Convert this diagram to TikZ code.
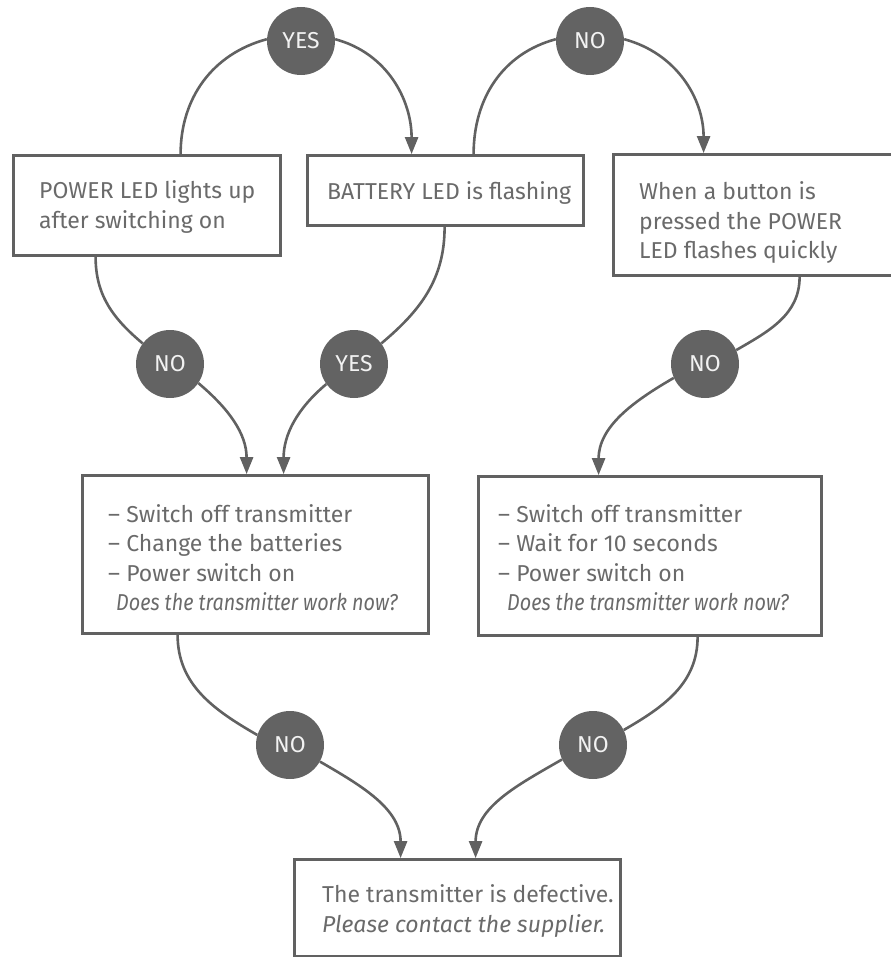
\documentclass[tikz,border=0pt]{standalone}
\usepackage{fontspec}
\usepackage{graphicx}
\setmainfont{Fira Sans}
\usetikzlibrary{arrows.meta}
\definecolor{linegray}{HTML}{616161}
\definecolor{circgray}{HTML}{636363}
\definecolor{textgray}{HTML}{6A6A6A}
\definecolor{circtext}{HTML}{F2F2F2}
\newcommand{\qline}[1]{\scalebox{0.86}[1]{\textit{#1}}}
\begin{document}
\begin{tikzpicture}[x=1pt,y=1pt,
  boxnode/.style={draw=linegray, line width=2.8pt, rectangle, inner sep=0pt},
  txt/.style={text=textgray, inner sep=0pt, align=left, anchor=west, font=\fontsize{23}{29.5}\selectfont},
  answer/.style={circle, fill=circgray, minimum size=68pt, inner sep=0pt, text=circtext, font=\fontsize{23}{26}\selectfont},
  conn/.style={draw=linegray, line width=2.6pt},
  arr/.style={conn, -{Triangle[width=13pt,length=17pt]}}
]
\useasboundingbox (0,0) rectangle (891,-958);

% boxes
\node[boxnode, minimum width=267pt, minimum height=100pt] (b1) at (147,-205.5) {};
\node[boxnode, minimum width=276pt, minimum height=70pt] (b2) at (445.5,-190.5) {};
\node[boxnode, minimum width=286.5pt, minimum height=121pt] (b3) at (756.75,-215) {};
\node[boxnode, minimum width=346pt, minimum height=158pt] (b4) at (255.5,-554.5) {};
\node[boxnode, minimum width=343pt, minimum height=159pt] (b5) at (650,-556) {};
\node[boxnode, minimum width=326pt, minimum height=96.5pt] (b6) at (457.5,-907.75) {};

% texts
\node[txt] (t1) at (39,-207) {POWER LED lights up\\after switching on};
\node[txt] (t2) at (327,-192.5) {BATTERY LED is flashing};
\node[txt] (t3) at (639,-222.5) {When a button is\\pressed the POWER\\LED flashes quickly};
\node[txt] (t4) at (108,-557.5) {– Switch off transmitter\\– Change the batteries\\– Power switch on\\\hspace*{8pt}\qline{Does the transmitter work now?}};
\node[txt] (t5) at (498,-557.5) {– Switch off transmitter\\– Wait for 10 seconds\\– Power switch on\\\hspace*{9pt}\qline{Does the transmitter work now?}};
\node[txt] (t6) at (322,-911) {The transmitter is defective.\\\textit{Please contact the supplier.}};

% answer circles
\node[answer] (yes1) at (301,-41) {YES};
\node[answer] (no1) at (590,-41) {NO};
\node[answer] (no2) at (170,-364) {NO};
\node[answer] (yes2) at (354,-364) {YES};
\node[answer] (no3) at (705,-364) {NO};
\node[answer] (no4) at (290,-745) {NO};
\node[answer] (no5) at (593,-745) {NO};

% connectors
\draw[conn] ([xshift=168.5pt]b1.north west) to[out=90,in=195] (yes1.177);
\draw[arr] (yes1.3) to[out=-15,in=90] ([xshift=105.5pt]b2.north west);
\draw[conn] ([xshift=167.5pt]b2.north west) to[out=90,in=195] (no1.177);
\draw[arr] (no1.3) to[out=-15,in=90] ([xshift=91.5pt]b3.north west);

\draw[conn] ([xshift=83.5pt]b1.south west) to[out=-90,in=140] (no2.143);
\draw[arr] (no2.-34) to[out=-40,in=90] ([xshift=165.5pt]b4.north west);
\draw[conn] ([xshift=138.5pt]b2.south west) to[out=-90,in=40] (yes2.37);
\draw[arr] (yes2.216) to[out=220,in=90] ([xshift=202.5pt]b4.north west);
\draw[conn] ([xshift=187.5pt]b3.south west) to[out=-90,in=30] (no3.24);
\draw[arr] (no3.204) to[out=210,in=90] ([xshift=121.5pt]b5.north west);

\draw[conn] ([xshift=96.5pt]b4.south west) to[out=-90,in=150] (no4.163);
\draw[arr] (no4.-29) to[out=-30,in=90] ([xshift=107.5pt]b6.north west);
\draw[conn] ([xshift=220.5pt]b5.south west) to[out=-90,in=30] (no5.26);
\draw[arr] (no5.205) to[out=210,in=90] ([xshift=182.5pt]b6.north west);
\end{tikzpicture}
\end{document}
